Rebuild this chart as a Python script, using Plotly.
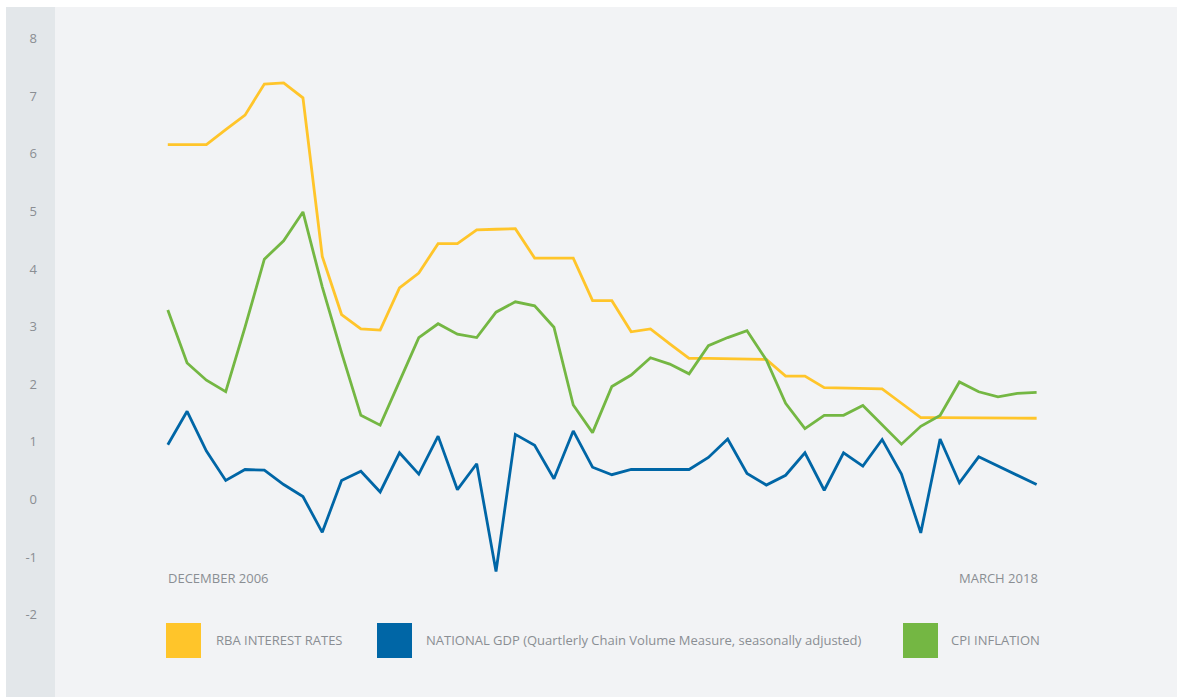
import plotly.graph_objects as go

# ---------------- data ----------------
quarters = []
_months = ["Mar", "Jun", "Sep", "Dec"]
quarters.append("Dec 2006")
for yr in range(2007, 2018):
    for m in _months:
        quarters.append(f"{m} {yr}")
quarters.append("Mar 2018")

rba_rates = [6.16, 6.16, 6.16, 6.42, 6.67, 7.21, 7.23, 6.97, 4.22, 3.21,
             2.96, 2.94, 3.67, 3.93, 4.44, 4.44, 4.68, 4.69, 4.70, 4.19,
             4.19, 4.19, 3.45, 3.45, 2.91, 2.96, 2.70, 2.45, 2.45, 2.44,
             2.44, 2.43, 2.14, 2.14, 1.94, 1.93, 1.93, 1.92, 1.67, 1.42,
             1.42, 1.42, 1.42, 1.41, 1.41, 1.41]

national_gdp = [0.95, 1.53, 0.84, 0.33, 0.52, 0.51, 0.26, 0.05, -0.57, 0.33,
                0.49, 0.13, 0.81, 0.44, 1.10, 0.17, 0.62, -1.25, 1.13, 0.94,
                0.36, 1.19, 0.56, 0.43, 0.52, 0.52, 0.52, 0.52, 0.73, 1.05,
                0.45, 0.25, 0.42, 0.81, 0.16, 0.81, 0.58, 1.04, 0.44, -0.58,
                1.05, 0.29, 0.74, 0.58, 0.42, 0.26]

cpi_inflation = [3.29, 2.37, 2.07, 1.87, 2.99, 4.17, 4.49, 4.99, 3.69, 2.55,
                 1.46, 1.29, 2.05, 2.81, 3.05, 2.87, 2.81, 3.25, 3.43, 3.36,
                 2.99, 1.64, 1.16, 1.96, 2.16, 2.46, 2.35, 2.18, 2.67, 2.81,
                 2.93, 2.42, 1.67, 1.23, 1.46, 1.46, 1.63, 1.29, 0.96, 1.27,
                 1.46, 2.04, 1.87, 1.78, 1.84, 1.86]

y_ticks = [-2, -1, 0, 1, 2, 3, 4, 5, 6, 7, 8]
series_names = ["RBA INTEREST RATES",
                "NATIONAL GDP (Quartlerly Chain Volume Measure, seasonally adjusted)",
                "CPI INFLATION"]
start_label = "DECEMBER 2006"
end_label = "MARCH 2018"

# ---------------- style ----------------
YELLOW = "#FFC52A"
BLUE = "#0066A6"
GREEN = "#74B743"
PLOT_BG = "#F2F3F5"
BAND_BG = "#E3E7EA"
TEXT = "#8A8E93"
FONT = "Open Sans"

W, H = 1178, 697
ML, MR, MT, MB = 55, 1, 7, 0
PW, PH = W - ML - MR, H - MT - MB


def px_x(p):
    return (p - ML) / PW


def px_y(q):
    return (H - MB - q) / PH


fig = go.Figure()
for name, vals, col in [(series_names[0], rba_rates, YELLOW),
                        (series_names[1], national_gdp, BLUE),
                        (series_names[2], cpi_inflation, GREEN)]:
    fig.add_trace(go.Scatter(x=quarters, y=vals, mode="lines", name=name,
                             line=dict(color=col, width=2.8),
                             hoverinfo="x+y"))

# left band
shapes = [dict(type="rect", xref="paper", yref="paper",
               x0=px_x(6), x1=0, y0=0, y1=1,
               fillcolor=BAND_BG, line=dict(width=0), layer="below")]

# legend swatches + labels
annotations = []
legend_items = [(166, 214, YELLOW, series_names[0]),
                (377, 424, BLUE, series_names[1]),
                (903, 949, GREEN, series_names[2])]
for sx, tx, col, txt in legend_items:
    shapes.append(dict(type="rect", xref="paper", yref="paper",
                       x0=px_x(sx), x1=px_x(sx + 35),
                       y0=px_y(658), y1=px_y(623),
                       fillcolor=col, line=dict(width=0)))
    annotations.append(dict(xref="paper", yref="paper", x=px_x(tx), y=px_y(640),
                            text=txt, showarrow=False, xanchor="left",
                            yanchor="middle",
                            font=dict(family=FONT, size=13, color=TEXT)))

# x-axis end labels
annotations.append(dict(xref="x", yref="y", x=quarters[0], y=-1.36,
                        text=start_label, showarrow=False, xanchor="left",
                        yanchor="middle", xshift=-2,
                        font=dict(family=FONT, size=13, color=TEXT)))
annotations.append(dict(xref="x", yref="y", x=quarters[-1], y=-1.36,
                        text=end_label, showarrow=False, xanchor="right",
                        yanchor="middle", xshift=3,
                        font=dict(family=FONT, size=13, color=TEXT)))

step = 19.307
x0px = 167.8
fig.update_layout(
    width=W, height=H,
    margin=dict(l=ML, r=MR, t=MT, b=MB, pad=0),
    paper_bgcolor="white",
    plot_bgcolor=PLOT_BG,
    showlegend=False,
    shapes=shapes,
    annotations=annotations,
    font=dict(family=FONT, color=TEXT),
    xaxis=dict(type="category", categoryorder="array", categoryarray=quarters,
               range=[(ML - x0px) / step, (W - MR - x0px) / step],
               showticklabels=False, showgrid=False, zeroline=False,
               showline=False, ticks=""),
    yaxis=dict(range=[-3.428, 8.547], tickvals=y_ticks,
               ticktext=[str(v) for v in y_ticks],
               showgrid=False, zeroline=False, showline=False, ticks="",
               ticklabelstandoff=17,
               tickfont=dict(family=FONT, size=13, color=TEXT)),
)

fig.write_html(
    "out.html",
    config={"displayModeBar": False},
    post_script="document.body.style.margin='0';document.body.style.overflow='hidden';",
)
